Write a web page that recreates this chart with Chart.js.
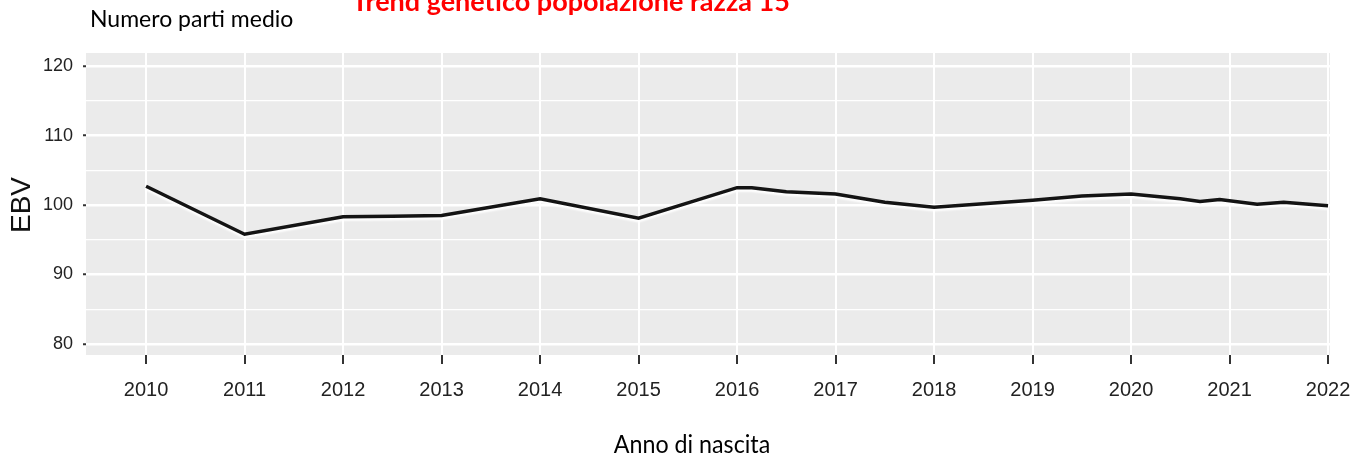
<!DOCTYPE html>
<html>
<head>
<meta charset="utf-8">
<script src="https://cdn.jsdelivr.net/npm/chart.js@4/dist/chart.umd.min.js"></script>
<style>
  html, body { margin: 0; padding: 0; background: #fff; }
  #wrap { width: 1359px; height: 457px; }
</style>
</head>
<body>
<div id="wrap"><canvas id="trendChart" width="1359" height="457"></canvas></div>
<script>
// values (half-year points where the line bends)
const years = [2010, 2011, 2012, 2012.5, 2013, 2014, 2015, 2016, 2016.15, 2016.5, 2017, 2017.5, 2018, 2018.5, 2019, 2019.5, 2020, 2020.5, 2020.7, 2020.9, 2021.28, 2021.55, 2022];
const ebv = [102.7, 95.8, 98.3, 98.4, 98.5, 100.9, 98.1, 102.5, 102.5, 101.9, 101.6, 100.4, 99.7, 100.2, 100.7, 101.3, 101.6, 100.9, 100.5, 100.8, 100.1, 100.4, 99.9];

const xTickYears = [2010, 2011, 2012, 2013, 2014, 2015, 2016, 2017, 2018, 2019, 2020, 2021, 2022];
const yMajorTicks = [80, 90, 100, 110, 120];
const yMinorTicks = [85, 95, 105, 115];

const chartTitle = 'Trend genetico popolazione razza 15';
const subTitle = 'Numero parti medio';
const xTitle = 'Anno di nascita';
const yTitle = 'EBV';

function drawText(ctx, text, x, y, font, color, align, scaleX) {
    ctx.save();
    ctx.font = font;
    ctx.fillStyle = color;
    ctx.textAlign = align || 'left';
    ctx.textBaseline = 'alphabetic';
    ctx.translate(x, y);
    ctx.scale(scaleX || 1, 1);
    ctx.fillText(text, 0, 0);
    ctx.restore();
}

const panelPlugin = {
    id: 'panel',
    beforeDraw(chart) {
        const { ctx, chartArea: a } = chart;
        ctx.save();
        ctx.fillStyle = '#ffffff';
        ctx.fillRect(0, 0, chart.width, chart.height);
        ctx.fillStyle = '#ebebeb';
        ctx.fillRect(a.left, a.top, a.right - a.left, a.bottom - a.top);
        ctx.restore();
    },
    beforeDatasetsDraw(chart) {
        const ctx = chart.ctx;
        ctx.save();
        ctx.shadowColor = 'rgba(255,255,255,0.95)';
        ctx.shadowBlur = 2;
        ctx.shadowOffsetY = 2.5;
    },
    afterDatasetsDraw(chart) {
        chart.ctx.restore();
    },
    afterDraw(chart) {
        const ctx = chart.ctx;
        drawText(ctx, chartTitle, 352, 11, 'bold 27px Lato', '#ff0000');
        drawText(ctx, subTitle, 90, 27, '23px Lato', '#000000');
        drawText(ctx, xTitle, 692, 453, '25px Lato', '#000000', 'center', 0.93);

        ctx.save();
        ctx.translate(30, 205);
        ctx.rotate(-Math.PI / 2);
        ctx.font = '28px "Liberation Sans"';
        ctx.fillStyle = '#111111';
        ctx.textAlign = 'center';
        ctx.textBaseline = 'alphabetic';
        ctx.fillText(yTitle, 0, 0);
        ctx.restore();
    }
};

const ctx = document.getElementById('trendChart').getContext('2d');
new Chart(ctx, {
    type: 'line',
    data: {
        datasets: [{
            data: years.map((x, i) => ({ x: x, y: ebv[i] })),
            borderColor: '#141414',
            borderWidth: 3.5,
            pointRadius: 0,
            tension: 0,
            fill: false
        }]
    },
    options: {
        responsive: false,
        animation: false,
        devicePixelRatio: 1,
        layout: { padding: { top: 53, right: 29, left: 0, bottom: 0 } },
        plugins: {
            legend: { display: false },
            tooltip: { enabled: false }
        },
        scales: {
            x: {
                type: 'linear',
                min: 2009.39,
                max: 2022.02,
                afterBuildTicks: s => { s.ticks = xTickYears.map(v => ({ value: v })); },
                afterFit: s => {
                    s.height = 102;
                    s.paddingLeft = 0;
                    s.paddingRight = 0;
                },
                border: { display: false },
                grid: {
                    color: '#ffffff',
                    lineWidth: 2,
                    tickColor: '#333333',
                    tickLength: 9,
                    tickWidth: 2
                },
                ticks: {
                    autoSkip: false,
                    maxRotation: 0,
                    padding: 14,
                    color: '#222222',
                    font: { family: '"Liberation Sans", Arial', size: 20 },
                    callback: v => String(v)
                }
            },
            y: {
                min: 78.4,
                max: 121.9,
                afterBuildTicks: s => {
                    s.ticks = yMajorTicks.concat(yMinorTicks).sort((a, b) => a - b).map(v => ({ value: v }));
                },
                afterFit: s => {
                    s.width = 86;
                    s.paddingTop = 0;
                    s.paddingBottom = 0;
                },
                border: { display: false },
                grid: {
                    color: '#ffffff',
                    lineWidth: c => yMajorTicks.includes(c.tick.value) ? 2.5 : 1.2,
                    tickColor: c => yMajorTicks.includes(c.tick.value) ? '#333333' : 'rgba(0,0,0,0)',
                    tickLength: 3,
                    tickWidth: 2
                },
                ticks: {
                    autoSkip: false,
                    padding: 10,
                    color: '#222222',
                    font: { family: '"Liberation Sans", Arial', size: 18 },
                    callback: v => yMajorTicks.includes(v) ? String(v) : ''
                }
            }
        }
    },
    plugins: [panelPlugin]
});
</script>
</body>
</html>
